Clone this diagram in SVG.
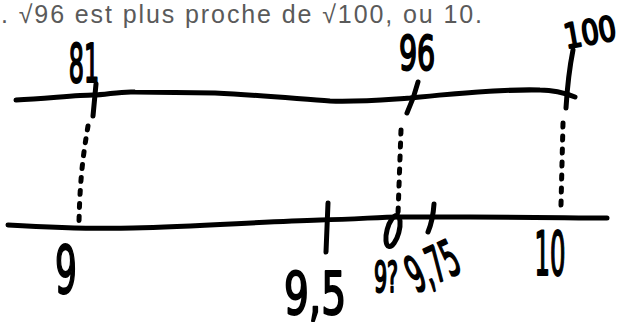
<svg xmlns="http://www.w3.org/2000/svg" width="624" height="335" viewBox="0 0 624 335">
<style>
.ink{fill:none;stroke:#000;stroke-width:5;stroke-linecap:round;stroke-linejoin:round}
.dot{fill:none;stroke:#000;stroke-width:5;stroke-linecap:round;stroke-dasharray:4 9}
.hw{font-family:"DejaVu Sans Condensed","DejaVu Sans",sans-serif;font-weight:normal;fill:#000;stroke:#000;stroke-width:2;stroke-linejoin:round;text-anchor:middle}
.cap{font-family:"Liberation Sans","Open Sans",sans-serif;font-size:25px;fill:#5a5a5a}
</style>
<rect width="624" height="335" fill="#fff"/>
<text class="cap" x="1" y="23" textLength="481" lengthAdjust="spacing">. √96 est plus proche de √100, ou 10.</text>
<g id="top-line">
<path class="ink" d="M16,100 C50,98 80,95 93,95 S120,91 135,92 L215,93 C260,95 300,99 330,101 C360,102 380,100 410,98 C450,94 500,89 540,90 C555,90 565,93 575,97"/>
<path class="ink" d="M96,84 L93,116"/>
<path class="ink" d="M418,82 Q414,98 407,113"/>
<path class="ink" d="M573,50 Q568,75 566,108"/>
</g>
<g id="bottom-line">
<path class="ink" d="M8,225 C60,228 100,229 133,228 C200,226 260,222 320,220 C360,219 380,217 400,217 L470,217 C530,217 580,218 607,218"/>
<path class="ink" d="M328,203 Q327,230 326,252"/>
<path class="ink" d="M434,204 Q433,220 428,232"/>
<ellipse class="ink" cx="0" cy="0" rx="6" ry="16" transform="translate(393,231) rotate(15)"/>
</g>
<g id="connectors">
<path class="dot" d="M88,126 C84,150 80,175 79,222"/>
<path class="dot" d="M401,130 L398,214"/>
<path class="dot" d="M563,123 L561,205"/>
</g>
<g id="label-81"><text class="hw" font-size="53" transform="translate(84,82) scale(0.5,1)">81</text></g>
<g id="label-96"><text class="hw" font-size="48" transform="translate(417,70) scale(0.66,1)">96</text></g>
<g id="label-100"><text class="hw" font-size="34" transform="translate(592,44) rotate(-10) scale(0.9,1)">100</text></g>
<g id="label-9"><text class="hw" font-size="66" transform="translate(66,293) scale(0.58,1)">9</text></g>
<g id="label-9-5"><text class="hw" font-size="58" transform="translate(315,314) scale(0.75,1)">9,5</text></g>
<g id="label-9q"><text class="hw" font-size="42" transform="translate(386,292) scale(0.55,1)">9?</text></g>
<g id="label-9-75"><text class="hw" font-size="50" transform="translate(440,282) rotate(-25) scale(0.53,1)">9,75</text></g>
<g id="label-10"><text class="hw" font-size="60" transform="translate(550,275) scale(0.45,1)">10</text></g>
</svg>
